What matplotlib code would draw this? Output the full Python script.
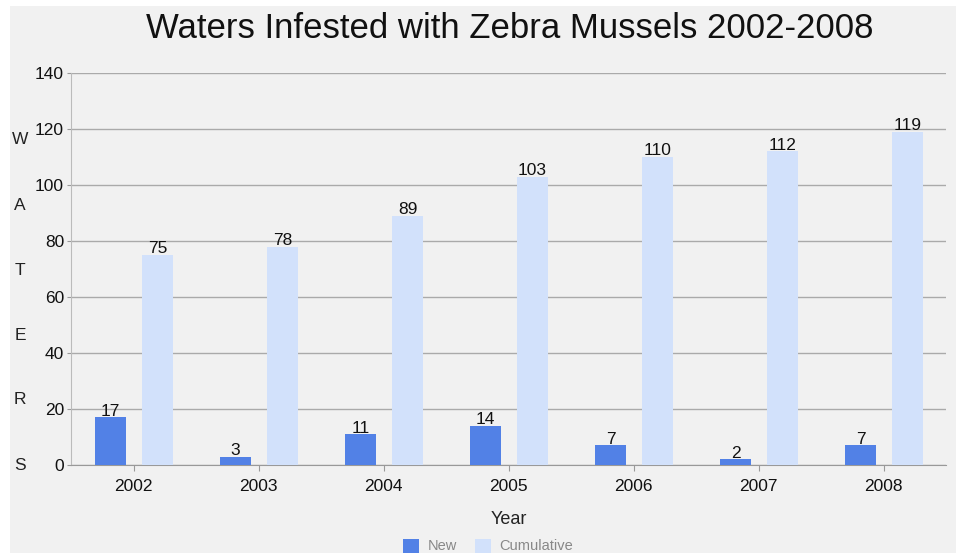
import numpy as np
import matplotlib.pyplot as plt
from matplotlib.patches import Rectangle

years = ['2002', '2003', '2004', '2005', '2006', '2007', '2008']
new_waters = [17, 3, 11, 14, 7, 2, 7]
cumulative = [75, 78, 89, 103, 110, 112, 119]

plt.rcParams['font.family'] = ['Liberation Sans', 'DejaVu Sans']

fig = plt.figure(figsize=(9.58, 5.53), dpi=100)
fig.patch.set_facecolor('white')
# gray panel with a thin white margin on the left and top
fig.add_artist(Rectangle((10 / 958, 0), 946 / 958, 547 / 553,
                         transform=fig.transFigure, facecolor='#f1f1f1',
                         edgecolor='none', zorder=0))

ax = fig.add_axes([71 / 958, 88 / 553, 875 / 958, 392 / 553])
ax.set_facecolor('none')

x = np.arange(len(years))
w = 0.25
b1 = ax.bar(x - 0.184, new_waters, w, color='#5281e6', label='New', zorder=3)
b2 = ax.bar(x + 0.192, cumulative, w, color='#d2e1fb', label='Cumulative', zorder=3)

for bars, vals in [(b1, new_waters), (b2, cumulative)]:
    for r, v in zip(bars, vals):
        ax.text(r.get_x() + r.get_width() / 2, v - 0.5, str(v), ha='center', va='bottom',
                fontsize=12.5, color='#111111', zorder=4)

ax.set_xlim(-0.5, len(years) - 0.5)
ax.set_ylim(0, 140)
ax.set_yticks(range(0, 141, 20))
ax.set_xticks(x)
ax.set_xticklabels(years)
ax.tick_params(axis='both', labelsize=12.5, colors='#999999', labelcolor='#111111')
ax.tick_params(axis='x', length=4, pad=6)
ax.tick_params(axis='y', length=3, pad=2)
ax.grid(axis='y', color='#aaaaaa', linewidth=1, zorder=1)

for s in ['top', 'right']:
    ax.spines[s].set_visible(False)
ax.spines['left'].set_color('#bbbbbb')
ax.spines['bottom'].set_color('#999999')

ax.set_xlabel('Year', fontsize=13, color='#222222', labelpad=12)

# vertical stacked y label
for i, ch in enumerate('WATERS'):
    fig.text(20 / 958, 1 - (140 + i * 65) / 553, ch, fontsize=12.5, color='#222222',
             ha='center', va='center')

fig.text(510 / 958, 1 - 29 / 553, 'Waters Infested with Zebra Mussels 2002-2008',
         fontsize=25, ha='center', va='center', color='#111111')

leg = fig.legend(handles=[b1, b2], loc='center', bbox_to_anchor=(488 / 958, 1 - 546 / 553),
                 ncol=2, frameon=False, fontsize=10.5, handlelength=1.1, handleheight=1.1,
                 columnspacing=1.2, handletextpad=0.6)
for t in leg.get_texts():
    t.set_color('#888888')

fig.savefig('out.png', dpi=100, facecolor=fig.get_facecolor())
